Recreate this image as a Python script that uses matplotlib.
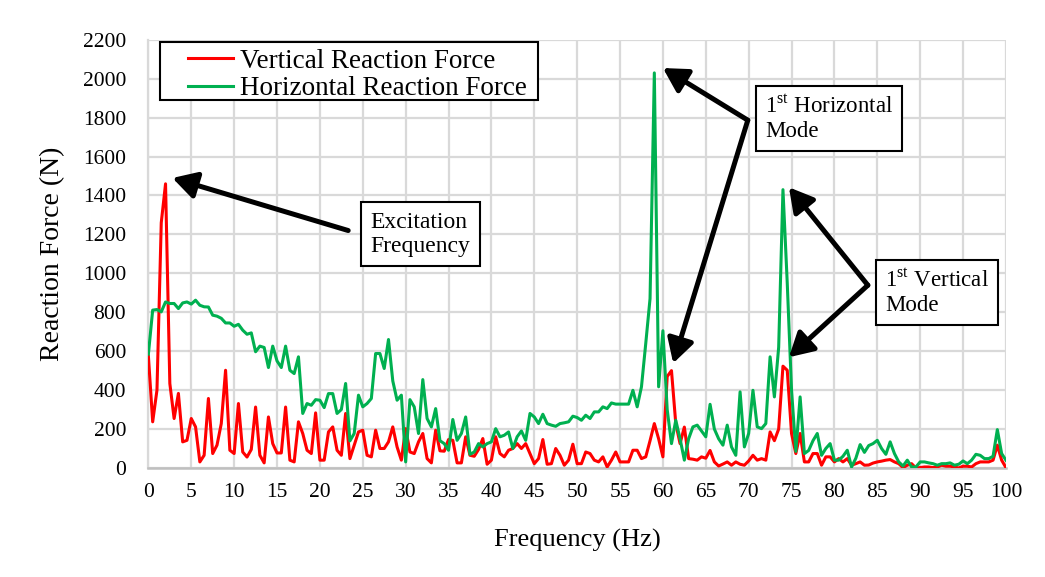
import numpy as np
import matplotlib.pyplot as plt
from matplotlib.patches import Rectangle

plt.rcParams['font.family'] = ['Liberation Serif', 'DejaVu Serif']
plt.rcParams['mathtext.fontset'] = 'custom'
plt.rcParams['mathtext.rm'] = 'Liberation Serif'

# frequency axis, 0.5 Hz steps
freq = np.arange(0, 100.5, 0.5)

# reaction forces (N)
vertical = [
    575, 237, 400, 1260, 1460, 434, 254, 383, 134, 142,
    254, 211, 31, 65, 357, 74, 117, 228, 502, 91,
    74, 331, 82, 56, 95, 313, 65, 26, 262, 125,
    77, 77, 313, 40, 31, 237, 177, 91, 74, 283,
    40, 40, 185, 211, 91, 65, 280, 48, 117, 185,
    194, 65, 57, 194, 100, 100, 134, 211, 108, 40,
    202, 82, 74, 134, 177, 48, 26, 194, 88, 86,
    146, 142, 26, 26, 160, 65, 60, 95, 151, 19,
    40, 160, 74, 57, 91, 100, 125, 100, 125, 74,
    22, 48, 146, 19, 22, 100, 65, 14, 40, 122,
    22, 22, 82, 74, 40, 31, 57, 5, 40, 82,
    31, 31, 31, 91, 91, 48, 57, 140, 228, 150,
    57, 470, 500, 228, 125, 210, 48, 45, 40, 57,
    50, 90, 31, 10, 20, 31, 14, 31, 19, 14,
    36, 65, 40, 48, 40, 185, 140, 200, 523, 502,
    177, 74, 177, 31, 31, 74, 74, 14, 57, 57,
    31, 48, 31, 48, 14, 22, 31, 14, 15, 25,
    31, 35, 40, 43, 31, 22, 2, 14, 22, 0,
    2, 5, 5, 2, 5, 14, 9, 9, 5, 0,
    9, 9, 5, 22, 31, 31, 31, 40, 117, 40,
    2,
]
horizontal = [
    585, 811, 814, 802, 853, 845, 845, 819, 848, 853,
    842, 862, 836, 828, 827, 785, 780, 769, 745, 745,
    728, 738, 708, 687, 694, 597, 626, 619, 516, 626,
    550, 516, 626, 502, 485, 571, 280, 331, 322, 351,
    348, 310, 382, 382, 280, 300, 434, 139, 177, 374,
    314, 331, 357, 588, 588, 511, 660, 447, 348, 374,
    31, 351, 314, 177, 454, 254, 211, 305, 140, 125,
    91, 249, 142, 177, 262, 70, 82, 125, 108, 125,
    134, 202, 160, 168, 185, 100, 160, 190, 142, 280,
    262, 228, 276, 228, 220, 214, 228, 232, 237, 266,
    259, 245, 271, 254, 288, 288, 314, 305, 334, 328,
    328, 328, 328, 399, 314, 417, 640, 870, 2030, 417,
    705, 300, 125, 245, 150, 40, 150, 211, 220, 190,
    160, 327, 200, 150, 117, 220, 108, 65, 391, 108,
    177, 399, 211, 202, 228, 571, 365, 620, 1430, 950,
    400, 85, 365, 74, 90, 140, 177, 65, 100, 125,
    40, 40, 60, 91, 5, 50, 120, 80, 115, 125,
    142, 100, 70, 134, 74, 31, 10, 40, 5, 5,
    31, 31, 26, 22, 14, 22, 22, 26, 14, 19,
    36, 22, 40, 70, 65, 48, 48, 60, 197, 74,
    40,
]

fig = plt.figure(figsize=(10.45, 5.77), dpi=100)
ax = fig.add_axes([0.142, 0.189, 0.8206, 0.742])

ax.plot(freq, vertical, color='#ff0000', lw=2.2, label='Vertical Reaction Force', zorder=3)
ax.plot(freq, horizontal, color='#00b050', lw=2.2, label='Horizontal Reaction Force', zorder=3)

ax.set_xlim(0, 100)
ax.set_ylim(0, 2200)
ax.set_xticks(np.arange(0, 101, 5))
ax.set_yticks(np.arange(0, 2201, 200))
ax.grid(True, color='#d9d9d9', lw=1.6)
ax.set_axisbelow(True)
ax.tick_params(length=0, labelsize=15.5)
ax.tick_params(axis='x', pad=11)
ax.tick_params(axis='y', pad=16)
for side in ['top', 'right']:
    ax.spines[side].set_visible(False)
ax.spines['left'].set_color('#d9d9d9')
ax.spines['left'].set_linewidth(1.6)
ax.spines['bottom'].set_color('#bfbfbf')
ax.spines['bottom'].set_linewidth(1.8)

ax.set_xlabel('Frequency (Hz)', fontsize=19, labelpad=19)
ax.set_ylabel('Reaction Force (N)', fontsize=20, labelpad=13)

# legend with a wide frame drawn separately
ax.add_patch(Rectangle((0.0136, 0.8593), 0.4408, 0.1356, transform=ax.transAxes,
                       fc='white', ec='black', lw=1.5, zorder=4))
leg = ax.legend(loc='center left', bbox_to_anchor=(0.0465, 0.918), borderaxespad=0,
                fontsize=19.5, frameon=False, handlelength=1.65, handletextpad=0.25,
                borderpad=0, labelspacing=0.1)
leg.set_zorder(5)

box = dict(boxstyle='square,pad=0.4', fc='white', ec='black', lw=1.5)
arrow = dict(arrowstyle='-|>,head_length=0.8,head_width=0.45', color='black',
             lw=3.6, mutation_scale=18, shrinkA=0, shrinkB=0)

# excitation peak
ax.text(25.9, 1200, 'Excitation\nFrequency', fontsize=17, ha='left', va='center',
        bbox=box, zorder=5)
ax.annotate('', xy=(2.8, 1490), xytext=(23.3, 1220), arrowprops=arrow, zorder=4)

# horizontal mode
ax.text(71.9, 1795, '1$^{\\mathrm{st}}$ Horizontal\nMode', fontsize=16.5, ha='left',
        va='center', bbox=box, zorder=5)
ax.annotate('', xy=(60.0, 2055), xytext=(69.9, 1787), arrowprops=arrow, zorder=4)
ax.annotate('', xy=(61.2, 538), xytext=(69.9, 1787), arrowprops=arrow, zorder=4)

# vertical mode
ax.text(85.9, 903, '1$^{\\mathrm{st}}$ Vertical\nMode', fontsize=16.5, ha='left',
        va='center', bbox=box, zorder=5)
ax.annotate('', xy=(74.7, 1442), xytext=(83.9, 939), arrowprops=arrow, zorder=4)
ax.annotate('', xy=(74.7, 569), xytext=(83.9, 939), arrowprops=arrow, zorder=4)

fig.savefig('out.png', dpi=100)
